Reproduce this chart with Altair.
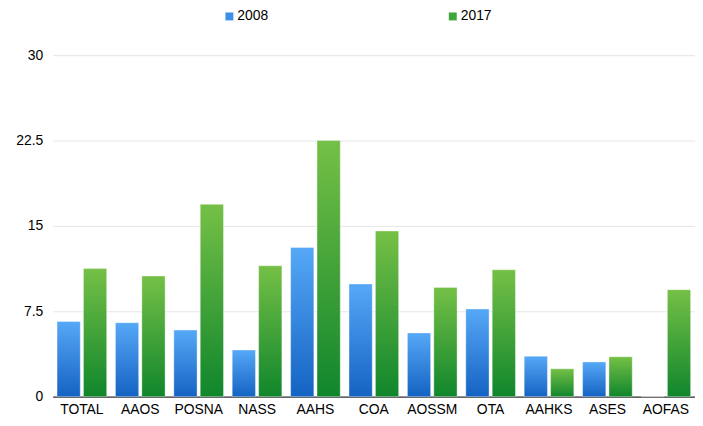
import altair as alt
import pandas as pd

categories = ["TOTAL", "AAOS", "POSNA", "NASS", "AAHS", "COA", "AOSSM", "OTA", "AAHKS", "ASES", "AOFAS"]
values_2008 = [6.6, 6.5, 5.85, 4.1, 13.1, 9.9, 5.6, 7.7, 3.55, 3.05, 0]
values_2017 = [11.25, 10.6, 16.9, 11.5, 22.5, 14.55, 9.6, 11.15, 2.45, 3.5, 9.4]
years = ["2008", "2017"]
y_ticks = [0, 7.5, 15, 22.5, 30]

rows = []
for i, c in enumerate(categories):
    rows.append({"cat": c, "year": years[0], "value": values_2008[i]})
    rows.append({"cat": c, "year": years[1], "value": values_2017[i]})
df = pd.DataFrame(rows)

blue_grad = {"gradient": "linear", "x1": 0, "y1": 0, "x2": 0, "y2": 1,
             "stops": [{"offset": 0, "color": "#56a8f7"}, {"offset": 1, "color": "#1463c3"}]}
green_grad = {"gradient": "linear", "x1": 0, "y1": 0, "x2": 0, "y2": 1,
              "stops": [{"offset": 0, "color": "#75c046"}, {"offset": 1, "color": "#10862c"}]}

font = "Liberation Sans"

x_enc = alt.X("cat:N", sort=categories, title=None,
              scale=alt.Scale(paddingInner=0.15, paddingOuter=0.075),
              axis=alt.Axis(labelAngle=0, ticks=False, domainColor="#333333", domainWidth=1.2,
                            labelFont=font, labelFontSize=14, labelColor="#000000", labelPadding=6))
y_enc = alt.Y("value:Q", title=None, scale=alt.Scale(domain=[0, 30], nice=False),
              axis=alt.Axis(values=y_ticks, labelExpr="datum.value + ''", domain=False, ticks=False,
                            gridColor="#e6e6e6",
                            labelFont=font, labelFontSize=14, labelColor="#000000", labelPadding=10))
xoff = alt.XOffset("year:N", sort=years, scale=alt.Scale(paddingInner=0.12))

bars = alt.Chart(df).mark_bar(stroke="#ffffff", strokeWidth=0.6, strokeOpacity=0.6).encode(
    x=x_enc, xOffset=xoff, y=y_enc,
    fill=alt.condition(alt.datum.year == "2008", alt.value(blue_grad), alt.value(green_grad)),
)

legend_layer = alt.Chart(df).mark_square(opacity=0).encode(
    x=alt.X("cat:N", sort=categories),
    y=alt.Y("value:Q"),
    color=alt.Color("year:N", sort=years, title=None,
                    scale=alt.Scale(domain=years, range=["#3d8fe6", "#3fa63c"]),
                    legend=alt.Legend(orient="none", direction="horizontal", legendX=171, legendY=-46,
                                      symbolType="square", symbolSize=64, symbolStrokeWidth=0,
                                      symbolOpacity=1,
                                      labelFont=font, labelFontSize=14, labelColor="#000000",
                                      labelOffset=1, columnPadding=178)),
)

chart = alt.layer(bars, legend_layer).properties(
    width=647, height=344,
    autosize=alt.AutoSizeParams(type="none"),
    padding={"left": 45, "top": 46, "right": 0, "bottom": 22},
).configure_view(stroke=None)

chart.save("out.html", embed_options={"renderer": "svg", "actions": False})
